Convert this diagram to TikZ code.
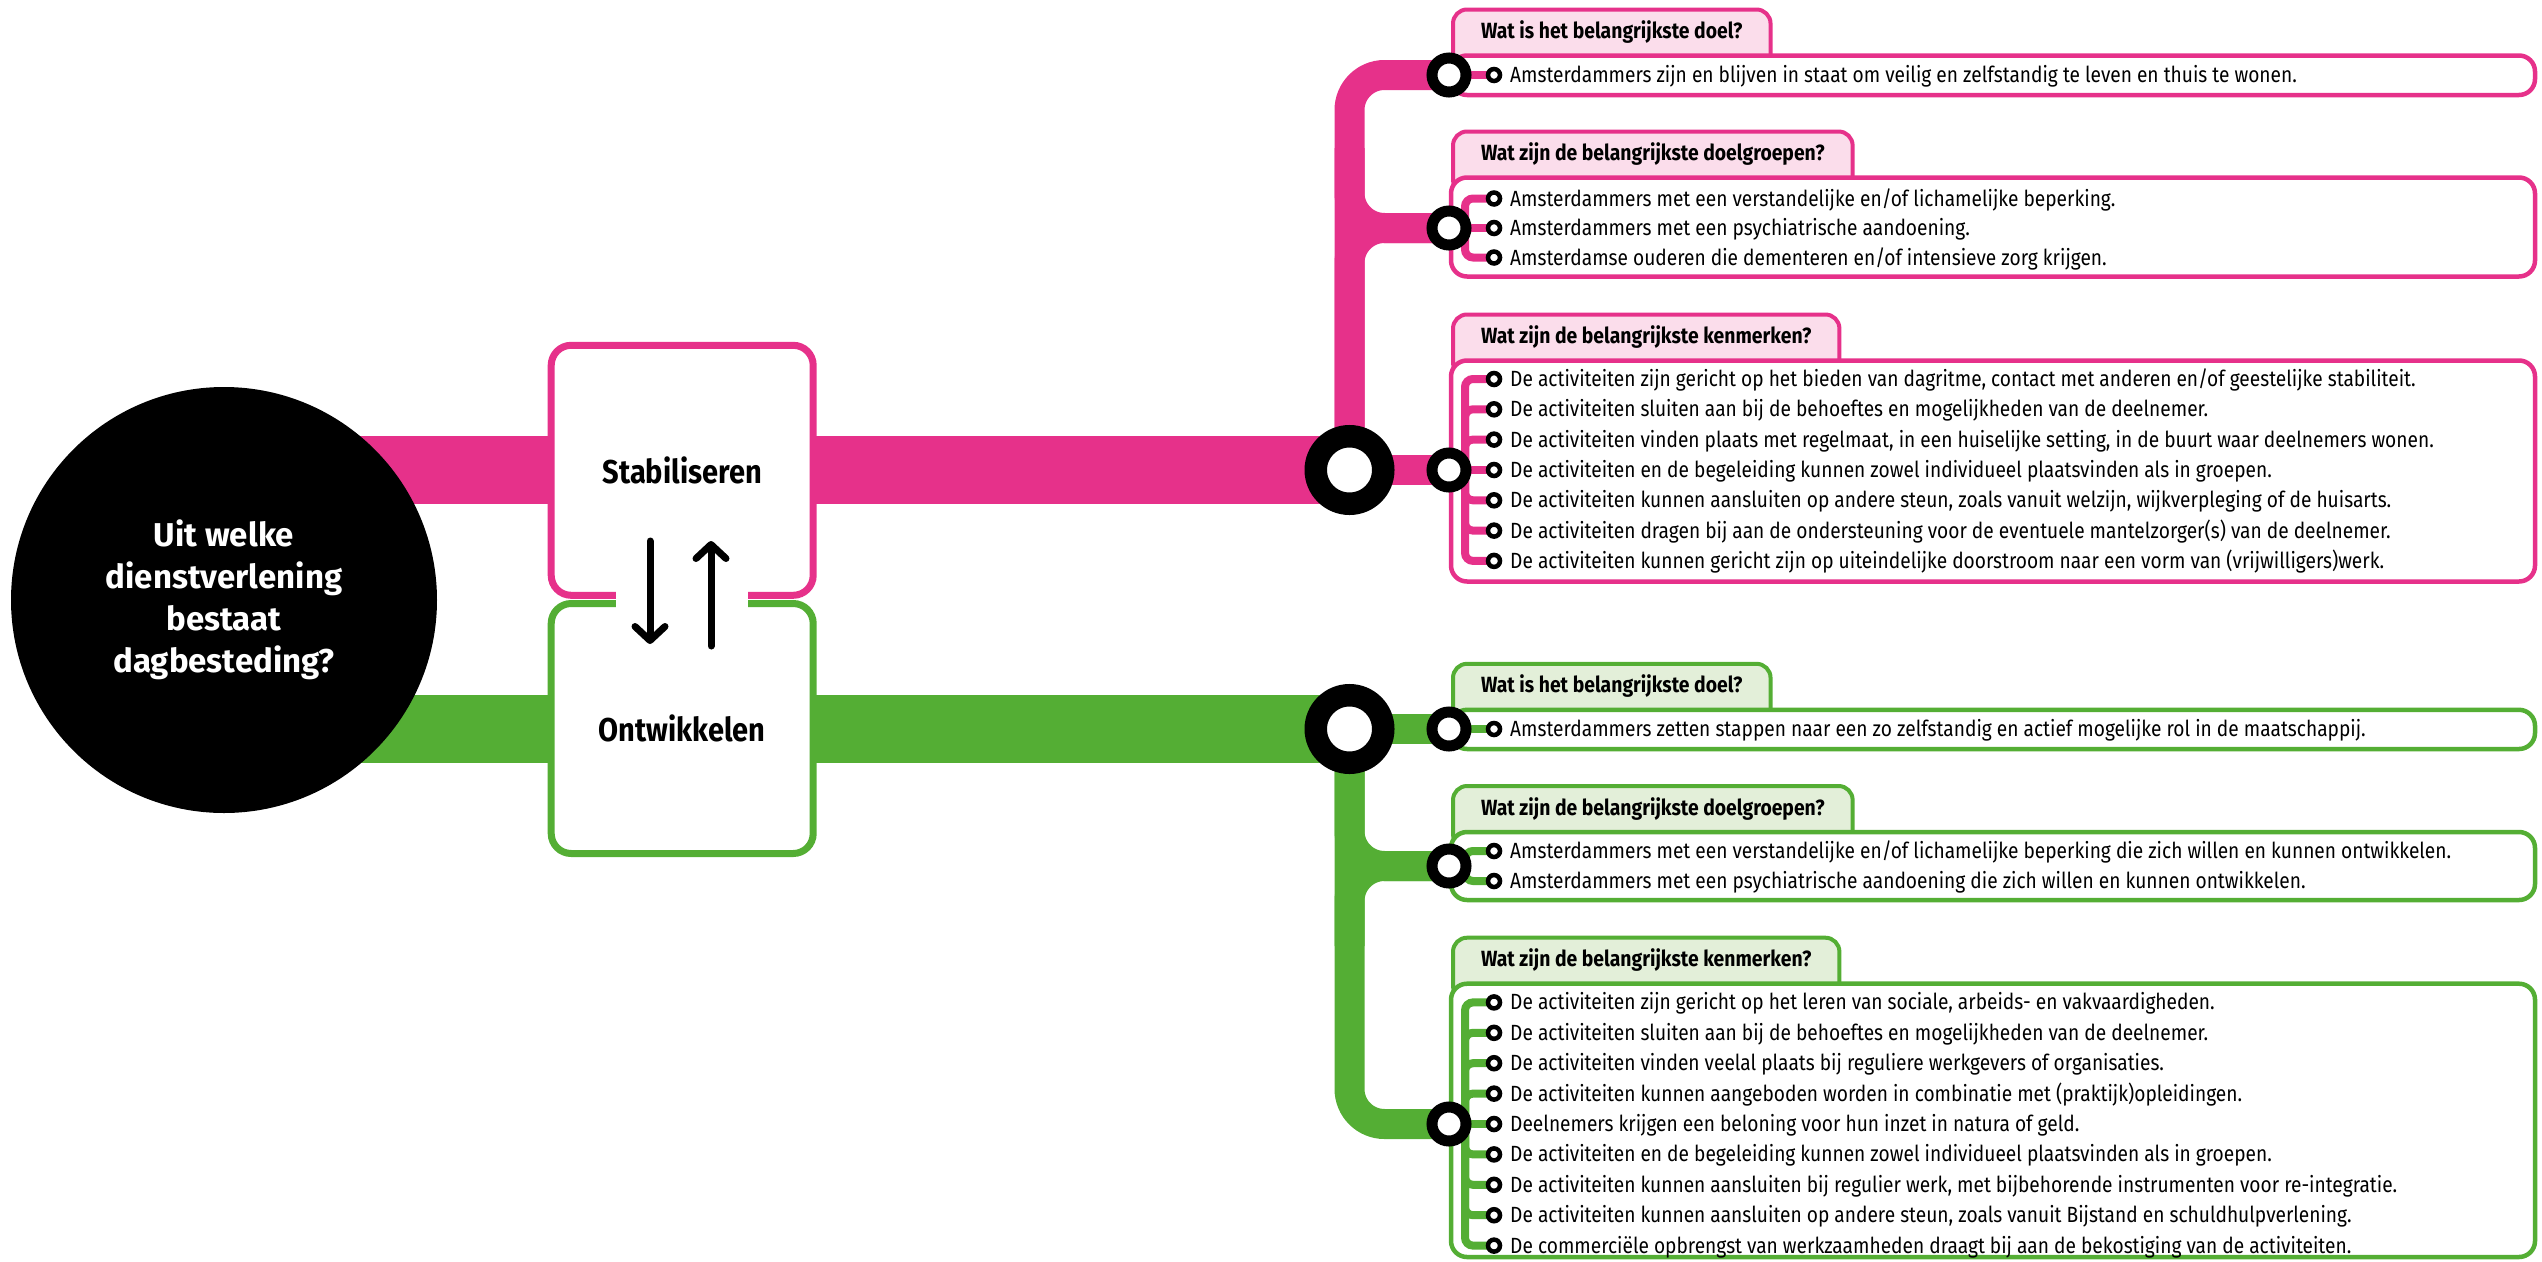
\documentclass[tikz,border=0pt]{standalone}
\usepackage{fontspec}
\setmainfont[FakeStretch=0.87]{Fira Sans}
\newfontfamily\headfam[FakeStretch=0.88]{Fira Sans}
\newfontfamily\boxfam[FakeStretch=0.88]{Fira Sans}
\newfontfamily\hubfam{Fira Sans}
\usepackage{tikz}
\usetikzlibrary{arrows.meta}

\definecolor{pinkA}{HTML}{E6318A}
\definecolor{pinkL}{HTML}{FBDDEB}
\definecolor{greenA}{HTML}{54AE34}
\definecolor{greenL}{HTML}{E3EFD9}

\newcommand\itemfont{\fontsize{22}{26}\selectfont}
\newcommand\headfont{\headfam\fontsize{22}{26}\selectfont\bfseries}
\newcommand\boxfont{\boxfam\fontsize{33}{40}\selectfont\bfseries}
\newcommand\hubfont{\hubfam\fontsize{33}{42}\selectfont\bfseries}

\pgfdeclarelayer{bars}
\pgfdeclarelayer{boxes}
\pgfdeclarelayer{links}
\pgfsetlayers{bars,boxes,links,main}

\begin{document}
\begin{tikzpicture}[x=1pt, y=-1pt, every text node part/.style={align=center}]

\tikzstyle{hub}=[circle, fill=black, text=white, minimum size=426pt, inner sep=0pt, font=\hubfont]
\tikzstyle{mainbox}=[rectangle, rounded corners=20pt, line width=7pt, fill=white, minimum width=262pt, minimum height=250pt, font=\boxfont]
\tikzstyle{ring}=[circle, draw=black, fill=white, inner sep=0pt]
\tikzstyle{bigring}=[ring, line width=22.5pt, minimum size=67.5pt]
\tikzstyle{midring}=[ring, line width=11pt, minimum size=34pt]
\tikzstyle{dot}=[ring, line width=4.5pt, minimum size=12pt]
\tikzstyle{item}=[anchor=base west, inner sep=0pt, font=\itemfont]
\tikzstyle{pmain}=[draw=pinkA, line width=68pt]
\tikzstyle{gmain}=[draw=greenA, line width=68pt]
\tikzstyle{pbar}=[draw=pinkA, line width=30pt, rounded corners=35pt]
\tikzstyle{gbar}=[draw=greenA, line width=30pt, rounded corners=35pt]
\tikzstyle{pconn}=[draw=pinkA, line width=8pt, rounded corners=8pt]
\tikzstyle{gconn}=[draw=greenA, line width=8pt, rounded corners=8pt]
\tikzstyle{lbox}=[rectangle, rounded corners=16pt, line width=4.5pt, fill=white, minimum width=1084pt, inner sep=0pt]
\tikzstyle{pbox}=[lbox, draw=pinkA]
\tikzstyle{gbox}=[lbox, draw=greenA]
\tikzstyle{tab}=[rectangle, rounded corners=14pt, line width=4pt, inner xsep=28pt, inner ysep=0pt, text height=29pt, text depth=33pt, anchor=base west, font=\headfont]
\tikzstyle{ptab}=[tab, draw=pinkA, fill=pinkL]
\tikzstyle{gtab}=[tab, draw=greenA, fill=greenL]
\tikzstyle{arr}=[draw, line width=7pt, line cap=round, -{Straight Barb[round, length=14pt, width=30pt]}]

\useasboundingbox (0, 0) rectangle (2542, 1261);

\node (c0) [hub] at (224, 600) {Uit welke\\dienstverlening\\bestaat\\dagbesteding?};

\node (b1) [mainbox, draw=pinkA] at (682.2, 470.3) {Stabiliseren};
\node (b2) [mainbox, draw=greenA] at (682.2, 728.5) {Ontwikkelen};

\node (r1) [bigring] at (1349.5, 470) {};
\node (r2) [bigring] at (1349.5, 729) {};

\node (m1) [midring] at (1449, 75) {};
\node (m2) [midring] at (1449, 228) {};
\node (m3) [midring] at (1449, 470) {};
\node (m4) [midring] at (1449, 729) {};
\node (m5) [midring] at (1449, 866) {};
\node (m6) [midring] at (1449, 1124) {};

\node (t1) [dot] at (1494, 75) {};
\node (t2) [dot] at (1494, 198.5) {};
\node (t3) [dot] at (1494, 228) {};
\node (t4) [dot] at (1494, 257.5) {};
\node (t5) [dot] at (1494, 379) {};
\node (t6) [dot] at (1494, 409.3) {};
\node (t7) [dot] at (1494, 439.6) {};
\node (t8) [dot] at (1494, 470) {};
\node (t9) [dot] at (1494, 500.3) {};
\node (t10) [dot] at (1494, 530.6) {};
\node (t11) [dot] at (1494, 560.9) {};
\node (t12) [dot] at (1494, 729) {};
\node (t13) [dot] at (1494, 851) {};
\node (t14) [dot] at (1494, 881) {};
\node (t15) [dot] at (1494, 1002.4) {};
\node (t16) [dot] at (1494, 1032.8) {};
\node (t17) [dot] at (1494, 1063.2) {};
\node (t18) [dot] at (1494, 1093.6) {};
\node (t19) [dot] at (1494, 1124) {};
\node (t20) [dot] at (1494, 1154.4) {};
\node (t21) [dot] at (1494, 1184.8) {};
\node (t22) [dot] at (1494, 1215.2) {};
\node (t23) [dot] at (1494, 1245.6) {};

\node (i1) [item] at (1510, 82.5) {Amsterdammers zijn en blijven in staat om veilig en zelfstandig te leven en thuis te wonen.};
\node (i2) [item] at (1510, 206) {Amsterdammers met een verstandelijke en/of lichamelijke beperking.};
\node (i3) [item] at (1510, 235.5) {Amsterdammers met een psychiatrische aandoening.};
\node (i4) [item] at (1510, 265) {Amsterdamse ouderen die dementeren en/of intensieve zorg krijgen.};
\node (i5) [item] at (1510, 386.5) {De activiteiten zijn gericht op het bieden van dagritme, contact met anderen en/of geestelijke stabiliteit.};
\node (i6) [item] at (1510, 416.8) {De activiteiten sluiten aan bij de behoeftes en mogelijkheden van de deelnemer.};
\node (i7) [item] at (1510, 447.1) {De activiteiten vinden plaats met regelmaat, in een huiselijke setting, in de buurt waar deelnemers wonen.};
\node (i8) [item] at (1510, 477.5) {De activiteiten en de begeleiding kunnen zowel individueel plaatsvinden als in groepen.};
\node (i9) [item] at (1510, 507.8) {De activiteiten kunnen aansluiten op andere steun, zoals vanuit welzijn, wijkverpleging of de huisarts.};
\node (i10) [item] at (1510, 538.1) {De activiteiten dragen bij aan de ondersteuning voor de eventuele mantelzorger(s) van de deelnemer.};
\node (i11) [item] at (1510, 568.4) {De activiteiten kunnen gericht zijn op uiteindelijke doorstroom naar een vorm van (vrijwilligers)werk.};
\node (i12) [item] at (1510, 736.5) {Amsterdammers zetten stappen naar een zo zelfstandig en actief mogelijke rol in de maatschappij.};
\node (i13) [item] at (1510, 858.5) {Amsterdammers met een verstandelijke en/of lichamelijke beperking die zich willen en kunnen ontwikkelen.};
\node (i14) [item] at (1510, 888.5) {Amsterdammers met een psychiatrische aandoening die zich willen en kunnen ontwikkelen.};
\node (i15) [item] at (1510, 1009.9) {De activiteiten zijn gericht op het leren van sociale, arbeids- en vakvaardigheden.};
\node (i16) [item] at (1510, 1040.3) {De activiteiten sluiten aan bij de behoeftes en mogelijkheden van de deelnemer.};
\node (i17) [item] at (1510, 1070.7) {De activiteiten vinden veelal plaats bij reguliere werkgevers of organisaties.};
\node (i18) [item] at (1510, 1101.1) {De activiteiten kunnen aangeboden worden in combinatie met (praktijk)opleidingen.};
\node (i19) [item] at (1510, 1131.5) {Deelnemers krijgen een beloning voor hun inzet in natura of geld.};
\node (i20) [item] at (1510, 1161.9) {De activiteiten en de begeleiding kunnen zowel individueel plaatsvinden als in groepen.};
\node (i21) [item] at (1510, 1192.3) {De activiteiten kunnen aansluiten bij regulier werk, met bijbehorende instrumenten voor re-integratie.};
\node (i22) [item] at (1510, 1222.7) {De activiteiten kunnen aansluiten op andere steun, zoals vanuit Bijstand en schuldhulpverlening.};
\node (i23) [item] at (1510, 1253.1) {De commerciële opbrengst van werkzaamheden draagt bij aan de bekostiging van de activiteiten.};

\begin{pgfonlayer}{bars}
\path [pmain] (c0.center |- r1.center) -- (r1.center);
\path [gmain] (c0.center |- r2.center) -- (r2.center);

\path [pbar] (r1.center) |- (m1.center);
\path [pbar] (r1.center) |- (m2.center);
\path [pbar] (r1.center |- m2.center) ++(0, -80) |- (m2.center);
\path [pbar] (r1.center) -- (m3.center);

\path [gbar] (r2.center) -- (m4.center);
\path [gbar] (r2.center) |- (m5.center);
\path [gbar] (r2.center |- m5.center) ++(0, 80) |- (m5.center);
\path [gbar] (r2.center) |- (m6.center);
\end{pgfonlayer}

\begin{pgfonlayer}{boxes}
\node (h1) [ptab] at (1451, 38.5) {Wat is het belangrijkste doel?};
\node (h2) [ptab] at (1451, 160.5) {Wat zijn de belangrijkste doelgroepen?};
\node (h3) [ptab] at (1451, 343.5) {Wat zijn de belangrijkste kenmerken?};
\node (h4) [gtab] at (1451, 692.8) {Wat is het belangrijkste doel?};
\node (h5) [gtab] at (1451, 815) {Wat zijn de belangrijkste doelgroepen?};
\node (h6) [gtab] at (1451, 966.7) {Wat zijn de belangrijkste kenmerken?};

\node (k1) [pbox, minimum height=39.5pt] at (1993, 75.25) {};
\node (k2) [pbox, minimum height=99pt] at (1993, 227) {};
\node (k3) [pbox, minimum height=221pt] at (1993, 471) {};
\node (k4) [gbox, minimum height=39.2pt] at (1993, 729.4) {};
\node (k5) [gbox, minimum height=68pt] at (1993, 866) {};
\node (k6) [gbox, minimum height=273.3pt] at (1993, 1120.35) {};
\end{pgfonlayer}

\begin{pgfonlayer}{links}
\path [pconn] (m1.center) -- (t1.center);

\path [pconn] (m2.center) -- ++(16, 0) |- (t2.center);
\path [pconn] (m2.center) -- (t3.center);
\path [pconn] (m2.center) -- ++(16, 0) |- (t4.center);

\path [pconn] (m3.center) -- ++(16, 0) |- (t5.center);
\path [pconn] (m3.center) -- ++(16, 0) |- (t6.center);
\path [pconn] (m3.center) -- ++(16, 0) |- (t7.center);
\path [pconn] (m3.center) -- (t8.center);
\path [pconn] (m3.center) -- ++(16, 0) |- (t9.center);
\path [pconn] (m3.center) -- ++(16, 0) |- (t10.center);
\path [pconn] (m3.center) -- ++(16, 0) |- (t11.center);

\path [gconn] (m4.center) -- (t12.center);

\path [gconn] (m5.center) -- ++(16, 0) |- (t13.center);
\path [gconn] (m5.center) -- ++(16, 0) |- (t14.center);

\path [gconn] (m6.center) -- ++(16, 0) |- (t15.center);
\path [gconn] (m6.center) -- ++(16, 0) |- (t16.center);
\path [gconn] (m6.center) -- ++(16, 0) |- (t17.center);
\path [gconn] (m6.center) -- ++(16, 0) |- (t18.center);
\path [gconn] (m6.center) -- (t19.center);
\path [gconn] (m6.center) -- ++(16, 0) |- (t20.center);
\path [gconn] (m6.center) -- ++(16, 0) |- (t21.center);
\path [gconn] (m6.center) -- ++(16, 0) |- (t22.center);
\path [gconn] (m6.center) -- ++(16, 0) |- (t23.center);
\end{pgfonlayer}

\fill [white] (616, 590) rectangle (748, 611);

\coordinate (a1) at (650, 541);
\coordinate (a2) at (650, 644);
\coordinate (a3) at (711, 646);
\coordinate (a4) at (711, 541);

\path [arr] (a1) -- (a2);
\path [arr] (a3) -- (a4);

\end{tikzpicture}
\end{document}
